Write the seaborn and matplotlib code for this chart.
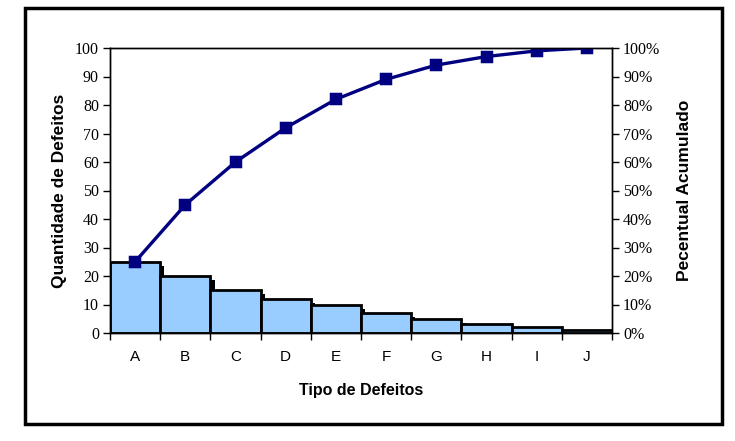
import matplotlib
matplotlib.use("Agg")
import matplotlib.pyplot as plt
import matplotlib.patheffects as pe
from matplotlib.patches import Rectangle
from matplotlib.ticker import FixedLocator, FuncFormatter
import numpy as np
import pandas as pd
import seaborn as sns

categories = ["A", "B", "C", "D", "E", "F", "G", "H", "I", "J"]
defects = [25, 20, 15, 12, 10, 7, 5, 3, 2, 1]
cumulative_pct = [25, 45, 60, 72, 82, 89, 94, 97, 99, 100]
left_ticks = [0, 10, 20, 30, 40, 50, 60, 70, 80, 90, 100]
right_ticks = [0, 10, 20, 30, 40, 50, 60, 70, 80, 90, 100]

df = pd.DataFrame({"cat": categories, "n": defects, "cum": cumulative_pct})

sns.set_style("white")
plt.rcParams.update({"text.color": "black", "axes.labelcolor": "black",
                     "xtick.color": "black", "ytick.color": "black"})
serif = ["Liberation Serif", "DejaVu Serif"]
sans = ["Liberation Sans", "DejaVu Sans"]

fig = plt.figure(figsize=(7.35, 4.41), dpi=100)
ax = fig.add_axes([110/735, 1-333/441, (612-110)/735, (333-48)/441])

sns.barplot(data=df, x="cat", y="n", order=categories, color="#99CCFF",
            width=1.0, edgecolor="black", linewidth=2, saturation=1, ax=ax)
for p in ax.patches:
    p.set_path_effects([pe.SimplePatchShadow(offset=(3, -3), shadow_rgbFace="black", alpha=1.0),
                        pe.Normal()])

ax.set_xlim(-0.5, len(categories) - 0.5)
ax.set_ylim(0, 100)
ax.yaxis.set_major_locator(FixedLocator(left_ticks))
ax.set_xlabel("Tipo de Defeitos", fontsize=11.5, fontweight="bold", family=sans, labelpad=14)
ax.set_ylabel("Quantidade de Defeitos", fontsize=12.5, fontweight="bold", family=sans, labelpad=6)

ax2 = ax.twinx()
sns.pointplot(data=df, x="cat", y="cum", order=categories, color="#000080",
              markers="s", markersize=6.5, linewidth=2.4, ax=ax2)
ax2.set_xlim(-0.5, len(categories) - 0.5)
ax2.set_ylim(0, 100)
ax2.yaxis.set_major_locator(FixedLocator(right_ticks))
ax2.yaxis.set_major_formatter(FuncFormatter(lambda v, _: f"{int(v)}%"))
ax2.set_ylabel("Pecentual Acumulado", fontsize=12.5, fontweight="bold", family=sans, labelpad=12)
ax2.set_xlabel("")

for a in (ax, ax2):
    for s in a.spines.values():
        s.set_visible(True)
        s.set_color("black")
        s.set_linewidth(1)

ax.tick_params(axis="y", direction="out", length=5, width=1, color="black", labelcolor="black", left=True, pad=3)
ax2.tick_params(axis="y", direction="out", length=5, width=1, color="black", labelcolor="black", right=True, pad=3)
ax.tick_params(axis="x", which="major", length=0, pad=12, labelcolor="black")
ax.set_xticks(np.arange(-0.5, len(categories)), minor=True)
ax.tick_params(axis="x", which="minor", direction="out", length=5, width=1, color="black", bottom=True)

for lbl in ax.get_yticklabels() + ax2.get_yticklabels():
    lbl.set_fontfamily(serif)
    lbl.set_fontsize(11.5)
for lbl in ax.get_xticklabels():
    lbl.set_fontfamily(sans)
    lbl.set_fontsize(11)

border = Rectangle((25/735, 1-424/441), (722-25)/735, (424-8)/441, transform=fig.transFigure,
                   fill=False, edgecolor="black", linewidth=2.5)
fig.patches.append(border)

fig.savefig("out.png", dpi=100)
